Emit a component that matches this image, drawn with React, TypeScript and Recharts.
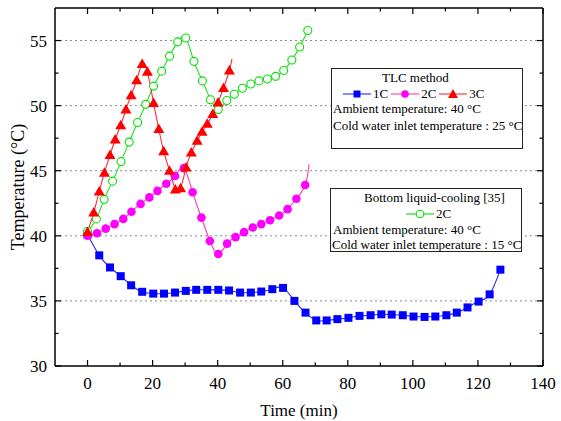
import { LineChart, Line, XAxis, YAxis, CartesianGrid, Label } from 'recharts'

// TLC method, 1C
const tlc1cTime = [0, 3.6, 6.9, 10.2, 13.4, 16.8, 20.2, 23.5, 26.9, 30.2, 33.4, 36.8, 40.2, 43.5, 46.9, 50.2, 53.4, 56.8, 60.1, 63.6, 67, 70.3, 73.5, 76.8, 80.2, 83.6, 87, 90.3, 93.5, 96.9, 100.2, 103.6, 106.9, 110.3, 113.5, 116.8, 120.2, 123.6, 126.9]
const tlc1cTemp = [40.1, 38.5, 37.57, 36.9, 36.2, 35.7, 35.56, 35.56, 35.64, 35.77, 35.85, 35.85, 35.85, 35.8, 35.64, 35.64, 35.72, 35.9, 36.0, 35.0, 34.1, 33.5, 33.5, 33.6, 33.7, 33.85, 33.9, 33.97, 33.95, 33.9, 33.8, 33.77, 33.8, 33.9, 34.1, 34.5, 34.95, 35.5, 37.4]

// TLC method, 2C (last entry is the end of the drawn curve, no symbol)
const tlc2cTime = [0, 2.9, 5.6, 8.3, 11, 13.5, 16.3, 19, 21.5, 24.2, 26.9, 29.6, 32.3, 35, 37.6, 40.2, 42.9, 45.5, 48.1, 50.8, 53.4, 56.1, 58.9, 61.5, 64.2, 66.9, 68.1]
const tlc2cTemp = [40.0, 40.2, 40.55, 40.9, 41.3, 41.85, 42.45, 42.95, 43.45, 44.0, 44.6, 45.2, 43.35, 41.4, 39.6, 38.6, 39.4, 39.9, 40.28, 40.64, 40.9, 41.2, 41.56, 42.05, 42.85, 43.9, 45.5]

// TLC method, 3C (last entry is the end of the drawn curve, no symbol)
const tlc3cTime = [0, 1.9, 3.6, 5.2, 6.9, 8.5, 10.2, 11.8, 13.4, 15.1, 16.8, 18.4, 20.3, 21.9, 23.4, 25.2, 27, 28.6, 30.3, 31.9, 33.7, 35.2, 36.8, 38.5, 40.1, 41.8, 43.6, 44.4]
const tlc3cTemp = [40.3, 41.8, 43.4, 44.85, 46.2, 47.4, 48.5, 49.7, 50.8, 51.95, 53.2, 52.6, 50.2, 48.2, 46.5, 45.0, 43.55, 43.65, 45.25, 46.4, 47.3, 48.0, 48.6, 49.36, 50.25, 51.35, 52.7, 53.6]

// Bottom liquid-cooling [35], 2C
const blc2cTime = [0, 2.7, 5.1, 7.7, 10.3, 12.8, 15.4, 17.9, 20.3, 22.8, 25.2, 27.7, 30.2, 32.7, 35.3, 37.8, 40.2, 42.8, 45.1, 47.6, 50.2, 52.7, 55.3, 57.8, 60.3, 62.8, 65.2, 67.7]
const blc2cTemp = [40.33, 41.3, 42.8, 44.2, 45.7, 47.2, 48.7, 50.1, 51.5, 52.65, 53.8, 54.9, 55.2, 53.4, 51.9, 50.45, 49.7, 50.4, 50.88, 51.33, 51.66, 51.9, 52.05, 52.25, 52.7, 53.5, 54.5, 55.77]

const xMajor = [0, 20, 40, 60, 80, 100, 120, 140]
const xMinor = [10, 30, 50, 70, 90, 110, 130]
const yMajor = [30, 35, 40, 45, 50, 55]
const yMinor = [32.5, 37.5, 42.5, 47.5, 52.5]
const gridValues = [35, 40, 45, 50, 55]

const FONT = '"Liberation Serif", "Times New Roman", serif'

const toRows = (t: number[], v: number[], symbols = t.length) =>
  t.map((x, i) => ({ t: x, v: v[i], sym: i < symbols }))

const s1 = toRows(tlc1cTime, tlc1cTemp)
const s2 = toRows(tlc2cTime, tlc2cTemp, tlc2cTime.length - 1)
const s3 = toRows(tlc3cTime, tlc3cTemp, tlc3cTime.length - 1)
const s4 = toRows(blc2cTime, blc2cTemp)

const xTicks = [...xMajor, ...xMinor].sort((a, b) => a - b)
const yTicks = [...yMajor, ...yMinor].sort((a, b) => a - b)

const isMajor = (v: number, list: number[]) => list.includes(v)

const BottomTick = ({ x, y, payload }: any) => {
  const major = isMajor(payload.value, xMajor)
  return (
    <g>
      <line x1={x} x2={x} y1={y} y2={y - (major ? 6 : 3.5)} stroke="#000" strokeWidth={1.2} />
      {major && (
        <text x={x} y={y + 23} textAnchor="middle" fontSize={17} fill="#000">
          {payload.value}
        </text>
      )}
    </g>
  )
}

const TopTick = ({ x, y, payload }: any) => {
  const major = isMajor(payload.value, xMajor)
  return <line x1={x} x2={x} y1={y} y2={y + (major ? 6 : 3.5)} stroke="#000" strokeWidth={1.2} />
}

const LeftTick = ({ x, y, payload }: any) => {
  const major = isMajor(payload.value, yMajor)
  return (
    <g>
      <line x1={x} x2={x + (major ? 6 : 3.5)} y1={y} y2={y} stroke="#000" strokeWidth={1.2} />
      {major && (
        <text x={x - 8} y={y + 6} textAnchor="end" fontSize={17} fill="#000">
          {payload.value}
        </text>
      )}
    </g>
  )
}

const RightTick = ({ x, y, payload }: any) => {
  const major = isMajor(payload.value, yMajor)
  return <line x1={x} x2={x - (major ? 6 : 3.5)} y1={y} y2={y} stroke="#000" strokeWidth={1.2} />
}

const SquareDot = ({ cx, cy, payload }: any) =>
  payload?.sym ? <rect x={cx - 4} y={cy - 4} width={8} height={8} fill="#0000ff" /> : <g />

const CircleDot = ({ cx, cy, payload }: any) =>
  payload?.sym ? <circle cx={cx} cy={cy} r={4.3} fill="#ff00ff" /> : <g />

const TriangleDot = ({ cx, cy, payload }: any) =>
  payload?.sym ? (
    <path d={`M${cx},${cy - 5.5} L${cx + 5.5},${cy + 4} L${cx - 5.5},${cy + 4} Z`} fill="#ff0000" />
  ) : (
    <g />
  )

const HollowDot = ({ cx, cy, payload }: any) =>
  payload?.sym ? <circle cx={cx} cy={cy} r={4} fill="#fff" stroke="#00e000" strokeWidth={1.1} /> : <g />

const LegendIcon = ({ color, marker }: { color: string; marker: string }) => (
  <svg width={28} height={12} style={{ display: 'block' }}>
    <line x1={0} x2={28} y1={6} y2={6} stroke={color} strokeWidth={1.2} />
    {marker === 'square' && <rect x={10.5} y={2.5} width={7} height={7} fill="#0000ff" />}
    {marker === 'circle' && <circle cx={14} cy={6} r={3.8} fill="#ff00ff" />}
    {marker === 'triangle' && <path d="M14,1 L19,10 L9,10 Z" fill="#ff0000" />}
    {marker === 'hollow' && <circle cx={14} cy={6} r={3.8} fill="#fff" stroke="#00e000" strokeWidth={1.1} />}
  </svg>
)

const boxStyle: React.CSSProperties = {
  position: 'absolute',
  border: '1.5px solid #222',
  background: '#fff',
  boxSizing: 'border-box',
  fontSize: 13,
  lineHeight: '16px',
  whiteSpace: 'nowrap',
  color: '#000',
}

const axisLine = { stroke: '#000', strokeWidth: 1.5 }

export default function App() {
  return (
    <div style={{ position: 'absolute', left: 0, top: 0, width: 561, height: 421, background: '#fff', fontFamily: FONT }}>
      <LineChart width={561} height={421} margin={{ top: 7, right: 17, bottom: 54, left: 54 }}>
        <CartesianGrid xAxisId="b" yAxisId="l" vertical={false} horizontalValues={gridValues} stroke="#8a8a8a" strokeDasharray="2 3" />
        <XAxis
          xAxisId="b"
          type="number"
          dataKey="t"
          domain={[-10, 140]}
          ticks={xTicks}
          interval={0}
          allowDataOverflow
          height={1}
          tickSize={0}
          tickMargin={0}
          tickLine={false}
          tick={<BottomTick />}
          axisLine={axisLine}
        >
          <Label
            content={({ viewBox }: any) => (
              <text x={viewBox.x + viewBox.width / 2} y={viewBox.y + 50} textAnchor="middle" fontSize={17} fill="#000">
                Time (min)
              </text>
            )}
          />
        </XAxis>
        <XAxis
          xAxisId="t"
          orientation="top"
          type="number"
          dataKey="t"
          domain={[-10, 140]}
          ticks={xTicks}
          interval={0}
          allowDataOverflow
          height={1}
          tickSize={0}
          tickMargin={0}
          tickLine={false}
          tick={<TopTick />}
          axisLine={axisLine}
        />
        <YAxis
          yAxisId="l"
          type="number"
          domain={[30, 57.5]}
          ticks={yTicks}
          interval={0}
          allowDataOverflow
          width={1}
          tickSize={0}
          tickMargin={0}
          tickLine={false}
          tick={<LeftTick />}
          axisLine={axisLine}
        >
          <Label
            content={({ viewBox }: any) => {
              const cx = 18
              const cy = viewBox.y + viewBox.height / 2
              return (
                <text x={cx} y={cy} transform={`rotate(-90 ${cx} ${cy})`} textAnchor="middle" dominantBaseline="central" fontSize={18} fill="#000">
                  Temperature (°C)
                </text>
              )
            }}
          />
        </YAxis>
        <YAxis
          yAxisId="r"
          orientation="right"
          type="number"
          domain={[30, 57.5]}
          ticks={yTicks}
          interval={0}
          allowDataOverflow
          width={1}
          tickSize={0}
          tickMargin={0}
          tickLine={false}
          tick={<RightTick />}
          axisLine={axisLine}
        />

        <Line xAxisId="b" yAxisId="l" data={s1} dataKey="v" type="natural" stroke="#2a2aff" strokeWidth={1.1} dot={<SquareDot />} activeDot={false} isAnimationActive={false} />
        <Line xAxisId="b" yAxisId="l" data={s2} dataKey="v" type="natural" stroke="#ff3aa8" strokeWidth={1.1} dot={<CircleDot />} activeDot={false} isAnimationActive={false} />
        <Line xAxisId="b" yAxisId="l" data={s4} dataKey="v" type="natural" stroke="#22dd22" strokeWidth={1.1} dot={<HollowDot />} activeDot={false} isAnimationActive={false} />
        <Line xAxisId="b" yAxisId="l" data={s3} dataKey="v" type="natural" stroke="#ff2a3a" strokeWidth={1.1} dot={<TriangleDot />} activeDot={false} isAnimationActive={false} />
      </LineChart>

      <div style={{ ...boxStyle, left: 331, top: 68, width: 192, height: 81 }}>
        <div style={{ position: 'absolute', left: 50, top: 1 }}>TLC method</div>
        <div style={{ position: 'absolute', left: 11, top: 17, display: 'flex', alignItems: 'center' }}>
          <LegendIcon color="#3a3aff" marker="square" />
          <span style={{ marginLeft: 2, marginRight: 3 }}>1C</span>
          <LegendIcon color="#ff4aa8" marker="circle" />
          <span style={{ marginLeft: 2, marginRight: 3 }}>2C</span>
          <LegendIcon color="#ff3a3a" marker="triangle" />
          <span style={{ marginLeft: 2 }}>3C</span>
        </div>
        <div style={{ position: 'absolute', left: 1, top: 32 }}>Ambient temperature: 40 °C</div>
        <div style={{ position: 'absolute', left: 1, top: 49 }}>Cold water inlet temperature : 25 °C</div>
      </div>

      <div style={{ ...boxStyle, left: 330, top: 188, width: 192, height: 64 }}>
        <div style={{ position: 'absolute', left: 33, top: 1 }}>Bottom liquid-cooling [35]</div>
        <div style={{ position: 'absolute', left: 75, top: 17, display: 'flex', alignItems: 'center' }}>
          <LegendIcon color="#22dd22" marker="hollow" />
          <span style={{ marginLeft: 2 }}>2C</span>
        </div>
        <div style={{ position: 'absolute', left: 2, top: 33 }}>Ambient temperature: 40 °C</div>
        <div style={{ position: 'absolute', left: 1, top: 48 }}>Cold water inlet temperature : 15 °C</div>
      </div>
    </div>
  )
}
